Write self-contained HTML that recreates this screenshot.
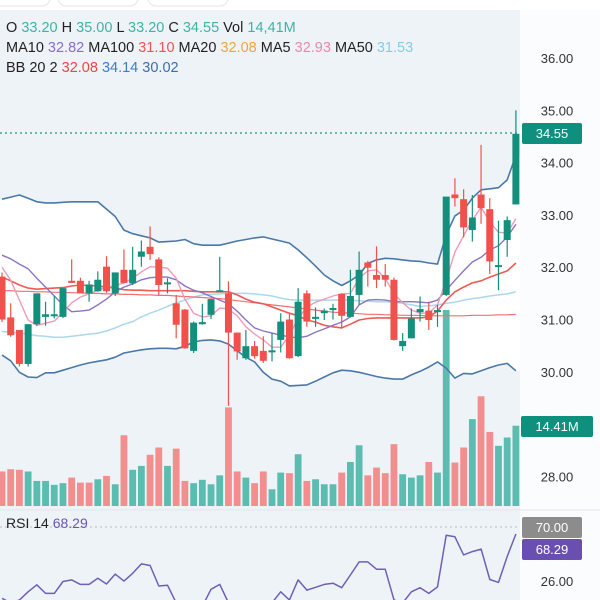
<!DOCTYPE html>
<html><head><meta charset="utf-8"><style>
html,body{margin:0;padding:0;background:#fff;width:600px;height:600px;overflow:hidden}
svg{display:block;font-family:"Liberation Sans",sans-serif}
</style></head><body>
<svg id="chart" width="600" height="600" viewBox="0 0 600 600" xmlns="http://www.w3.org/2000/svg">
<rect x="0" y="0" width="600" height="600" fill="#ffffff"/>
<rect x="-20" y="-20" width="70" height="26" rx="8" fill="none" stroke="#e3e6ea"/>
<rect x="58" y="-20" width="80" height="26" rx="8" fill="none" stroke="#e3e6ea"/>
<rect x="148" y="-20" width="80" height="26" rx="8" fill="none" stroke="#e3e6ea"/>
<rect x="0" y="10" width="520" height="590" fill="#eef3f8"/>
<rect x="520" y="10" width="80" height="590" fill="#fbfcfd"/>
<g id="bands"></g>
<g id="grid"></g>
<g id="vol"></g>
<g id="lines"></g>
<g id="candles"></g>
<line x1="0" x2="520" y1="133" y2="133" stroke="#1e9484" stroke-width="1.3" stroke-dasharray="2,3"/>
<g id="axis"></g>
<line x1="0" x2="600" y1="510" y2="510" stroke="#e2e7ec"/>
<line x1="0" x2="520" y1="527" y2="527" stroke="#b8bcc2" stroke-dasharray="2,3"/>
<g id="rsi"></g>
<text x="6" y="32" font-size="14.5" fill="#222">O <tspan fill="#3fb3a4">33.20</tspan> H <tspan fill="#3fb3a4">35.00</tspan> L <tspan fill="#3fb3a4">33.20</tspan> C <tspan fill="#3fb3a4">34.55</tspan> Vol <tspan fill="#3fb3a4">14,41M</tspan></text>
<text x="6" y="52" font-size="14.5" fill="#222">MA10 <tspan fill="#8a6cc9">32.82</tspan> MA100 <tspan fill="#ef5350">31.10</tspan> MA20 <tspan fill="#f2a43a">32.08</tspan> MA5 <tspan fill="#ee88a6">32.93</tspan> MA50 <tspan fill="#86cbe6">31.53</tspan></text>
<text x="6" y="72" font-size="14.5" fill="#222">BB 20 2 <tspan fill="#ef4444">32.08</tspan> <tspan fill="#3a7fc4">34.14</tspan> <tspan fill="#3a6faa">30.02</tspan></text>
<text x="6" y="528" font-size="14" fill="#222">RSI 14 <tspan fill="#6a55b5">68.29</tspan></text>
<rect x="522" y="123" width="60" height="21" rx="2" fill="#0f8f7e"/>
<text x="552" y="138" font-size="13" fill="#fff" text-anchor="middle">34.55</text>
<rect x="521" y="416" width="72" height="21" rx="2" fill="#0f8f7e"/>
<text x="557" y="431" font-size="13" fill="#fff" text-anchor="middle">14.41M</text>
<rect x="522" y="517" width="60" height="21" rx="2" fill="#8c8c8c"/>
<text x="552" y="532" font-size="13" fill="#fff" text-anchor="middle">70.00</text>
<rect x="522" y="539" width="60" height="21" rx="2" fill="#6a4fb3"/>
<text x="552" y="554" font-size="13" fill="#fff" text-anchor="middle">68.29</text>
<text x="557" y="586" font-size="13" fill="#333" text-anchor="middle">26.00</text>
</svg>
<script>
const opens=[31.82,31.04,30.80,30.15,30.91,31.05,31.07,31.05,31.74,31.74,31.50,31.54,32.01,31.50,31.95,31.69,32.20,32.39,32.15,31.68,31.31,31.19,30.40,30.91,31.09,31.53,31.50,30.75,30.26,30.49,30.40,30.38,30.61,31.00,30.30,31.50,31.02,31.12,31.18,31.49,31.05,31.47,32.09,31.85,31.85,31.76,30.49,30.64,31.14,31.17,31.15,31.47,33.39,33.30,32.71,33.39,33.11,32.01,32.52,33.20];
const highs=[31.90,31.31,30.80,30.91,31.50,31.34,31.45,31.60,32.15,31.80,31.74,31.92,32.21,31.90,32.34,32.39,32.51,32.78,32.19,31.79,31.47,31.20,30.96,31.30,31.39,32.20,31.73,30.75,30.80,30.59,30.68,30.74,31.12,31.12,31.60,31.56,31.23,31.21,31.30,31.50,31.95,32.30,32.12,32.40,32.06,31.80,30.74,31.21,31.44,31.34,31.28,33.35,33.70,33.49,33.38,34.34,33.32,32.89,32.97,35.00];
const lows=[30.95,30.67,30.10,30.10,30.88,30.88,31.02,31.03,31.70,31.50,31.34,31.53,31.51,31.45,31.69,31.66,32.01,32.14,31.47,31.50,30.64,30.44,30.36,30.90,31.01,31.53,29.35,30.23,30.23,30.25,30.17,30.20,30.37,30.25,30.28,30.86,30.86,30.99,31.00,30.83,31.05,31.28,31.63,31.60,31.63,30.60,30.40,30.64,30.96,30.80,30.86,31.45,33.16,32.57,32.49,32.83,31.87,31.56,32.20,33.20];
const closes=[31.00,30.70,30.15,30.91,31.50,31.10,31.10,31.60,31.70,31.50,31.67,31.76,31.54,31.90,31.70,31.95,32.30,32.25,31.66,31.71,30.90,30.45,30.94,30.95,31.39,31.56,30.75,30.39,30.49,30.30,30.21,30.41,30.96,30.26,31.34,30.96,31.05,31.17,31.22,31.07,31.45,31.95,31.99,31.76,31.76,30.61,30.59,31.02,31.20,30.99,31.18,33.35,33.32,32.76,32.95,33.13,32.11,32.04,32.90,34.55];
const volumes=[6.2,6.6,6.5,6.2,4.5,4.5,3.8,4.1,5.1,4.2,4.2,4.8,5.4,3.9,12.7,6.5,7.2,9.2,10.5,7.2,10.3,4.5,4.1,4.7,3.9,5.5,17.7,6.2,5.1,4.1,6.2,3.0,6.0,5.9,9.3,4.5,4.8,3.9,3.9,6.0,7.9,10.9,5.5,6.9,5.9,11.1,5.7,5.1,5.5,7.9,6.0,35.2,7.8,10.5,15.6,19.7,13.3,10.8,12.3,14.41];
const volUp=[0,0,0,1,1,1,1,1,0,0,0,1,0,1,0,1,1,0,0,1,0,0,1,1,1,1,0,0,1,0,0,1,1,0,1,0,1,1,1,0,1,1,0,0,0,0,1,1,1,0,1,1,0,0,1,0,0,1,1,1];
const bbUpper=[33.30,33.34,33.38,33.32,33.25,33.23,33.23,33.24,33.25,33.25,33.25,33.25,33.11,32.97,32.71,32.64,32.60,32.56,32.48,32.49,32.50,32.53,32.45,32.42,32.42,32.42,32.46,32.50,32.53,32.56,32.58,32.54,32.50,32.46,32.33,32.18,32.02,31.85,31.74,31.65,31.74,31.85,32.07,32.14,32.17,32.16,32.14,32.12,32.11,32.08,32.06,32.62,32.98,33.09,33.32,33.48,33.50,33.52,33.67,34.14];
const bbLower=[30.32,30.21,29.99,29.90,29.89,29.98,29.98,30.03,30.08,30.13,30.17,30.20,30.23,30.28,30.36,30.39,30.42,30.44,30.45,30.45,30.44,30.49,30.57,30.60,30.61,30.59,30.53,30.40,30.28,30.19,29.99,29.86,29.82,29.73,29.74,29.75,29.82,29.90,29.98,30.03,30.02,29.99,29.95,29.91,29.88,29.86,29.86,29.94,30.01,30.09,30.19,30.07,29.88,29.97,29.96,30.02,30.08,30.13,30.16,30.02];
const ma20=[31.81,31.74,31.66,31.60,31.58,31.59,31.60,31.61,31.64,31.66,31.65,31.64,31.62,31.60,31.57,31.56,31.56,31.55,31.55,31.55,31.55,31.55,31.54,31.53,31.53,31.53,31.53,31.47,31.39,31.33,31.30,31.24,31.18,31.12,31.07,30.99,30.95,30.89,30.86,30.84,30.91,30.99,31.02,31.03,31.03,31.03,31.03,31.03,31.03,31.05,31.16,31.37,31.53,31.62,31.70,31.74,31.81,31.87,31.93,32.08];
const ma100=[31.55,31.55,31.54,31.54,31.53,31.53,31.52,31.52,31.51,31.51,31.50,31.50,31.49,31.49,31.48,31.48,31.47,31.47,31.46,31.46,31.45,31.44,31.43,31.42,31.41,31.40,31.38,31.36,31.34,31.32,31.30,31.28,31.26,31.24,31.22,31.20,31.18,31.16,31.14,31.13,31.12,31.11,31.10,31.10,31.09,31.09,31.08,31.08,31.08,31.07,31.07,31.07,31.07,31.07,31.08,31.08,31.08,31.09,31.09,31.10];
const ma50=[30.77,30.76,30.74,30.72,30.69,30.68,30.66,30.66,30.68,30.70,30.72,30.74,30.78,30.84,30.91,30.96,31.05,31.12,31.18,31.25,31.32,31.37,31.43,31.47,31.48,31.49,31.50,31.50,31.50,31.49,31.47,31.45,31.41,31.38,31.37,31.37,31.37,31.37,31.37,31.37,31.37,31.36,31.35,31.34,31.34,31.33,31.31,31.28,31.25,31.26,31.28,31.31,31.33,31.37,31.40,31.42,31.45,31.47,31.49,31.53];
const ma10=[32.23,32.16,32.06,31.97,31.79,31.62,31.45,31.28,31.15,31.16,31.18,31.28,31.39,31.53,31.62,31.68,31.76,31.80,31.81,31.81,31.76,31.64,31.56,31.51,31.44,31.37,31.30,31.16,30.99,30.84,30.78,30.74,30.70,30.67,30.65,30.68,30.76,30.82,30.89,30.95,31.05,31.28,31.37,31.38,31.37,31.34,31.34,31.34,31.33,31.32,31.37,31.56,31.75,31.93,32.10,32.19,32.33,32.41,32.58,32.82];
const ma5=[32.00,31.75,31.37,30.99,30.89,30.93,30.97,31.14,31.32,31.43,31.49,31.56,31.61,31.65,31.70,31.79,31.91,32.01,32.00,31.98,31.79,31.39,31.12,31.05,31.07,31.22,31.20,31.07,30.86,30.72,30.61,30.47,30.47,30.70,31.02,31.24,31.33,31.39,31.45,31.49,31.50,31.79,31.93,31.95,31.79,31.49,31.32,31.18,31.12,31.12,31.28,31.75,32.29,32.60,32.90,33.15,32.86,32.67,32.65,32.93];
const rsi=[52.6,51.5,52.2,54.2,55.9,53.8,53.8,56.7,57.1,56.0,56.0,57.5,56.1,58.5,56.8,58.7,61.0,60.6,55.6,55.8,51.5,49.8,49.0,50.6,54.8,56.0,51.5,49.0,48.5,49.4,50.6,51.5,54.2,52.2,57.1,54.6,55.3,56.0,56.3,55.2,58.3,61.5,61.5,59.7,59.7,52.2,51.5,54.2,55.2,53.8,55.4,68.0,67.6,63.2,64.0,64.6,57.2,56.5,62.8,68.29];
const priceTicks=["36.00","35.00","34.00","33.00","32.00","31.00","30.00","28.00"];

const NS="http://www.w3.org/2000/svg";
const X=i=>2+i*8.71;
const Y=p=>58+(36-p)*52.3;
const VY=v=>506-v*5.57;
const RY=v=>527+(70-v)*4.1;
function mk(tag,parent,attrs){const e=document.createElementNS(NS,tag);for(const k in attrs)e.setAttribute(k,attrs[k]);document.getElementById(parent).appendChild(e);return e;}
function pts(arr,fy){return arr.map((v,i)=>X(i).toFixed(1)+","+fy(v).toFixed(1)).join(" ");}

let up=bbUpper.map((v,i)=>X(i)+","+Y(v));
let lo=bbLower.map((v,i)=>X(i)+","+Y(v)).reverse();
const bf=mk('polygon','bands',{points:"0,"+Y(bbUpper[0])+" "+up.join(" ")+" 520,"+Y(bbUpper[59])+" 520,"+Y(bbLower[59])+" "+lo.join(" ")+" 0,"+Y(bbLower[0]),fill:"#ffffff"});



priceTicks.forEach(t=>{
  const e=mk('text','axis',{x:557,y:Y(parseFloat(t))+5,'font-size':13,fill:'#333','text-anchor':'middle'});
  e.textContent=t;
  
  
});

volumes.forEach((v,i)=>{
  const r=mk('rect','vol',{x:X(i)-3.4,y:VY(v),width:6.8,height:v*5.57,fill:volUp[i]?'#5bbcb0':'#f28e8e'});
  
  
});

const series=[[ma50,'#a9d8ef',1.5,'ma50-line'],[ma100,'#f07070',1.2,'ma100-line'],[bbUpper,'#4a78a8',1.6,'bb-upper-line'],[bbLower,'#4a78a8',1.6,'bb-lower-line'],[ma20,'#ee5a55',1.6,'ma20-line'],[ma10,'#8b74c4',1.4,'ma10-line'],[ma5,'#f09ab5',1.4,'ma5-line']];
series.forEach(s=>{
  const l=mk('polyline','lines',{points:pts(s[0],Y),fill:'none',stroke:s[1],'stroke-width':s[2],'stroke-linejoin':'round'});
  
  
});

opens.forEach((o,i)=>{
  const c=closes[i],upc=c>=o,col=upc?'#13907c':'#f2504c';
  const w=mk('line','candles',{x1:X(i),x2:X(i),y1:Y(highs[i]),y2:Y(lows[i]),stroke:col,'stroke-width':1.2});
  
  
  const top=Y(Math.max(o,c)),h=Math.max(2,Math.abs(Y(o)-Y(c)));
  const b=mk('rect','candles',{x:X(i)-3.5,y:top,width:7,height:h,fill:col});
  
  
});

const rl=mk('polyline','rsi',{points:pts(rsi,RY),fill:'none',stroke:'#6f5fb5','stroke-width':1.5,'stroke-linejoin':'round'});


</script>
</body></html>
